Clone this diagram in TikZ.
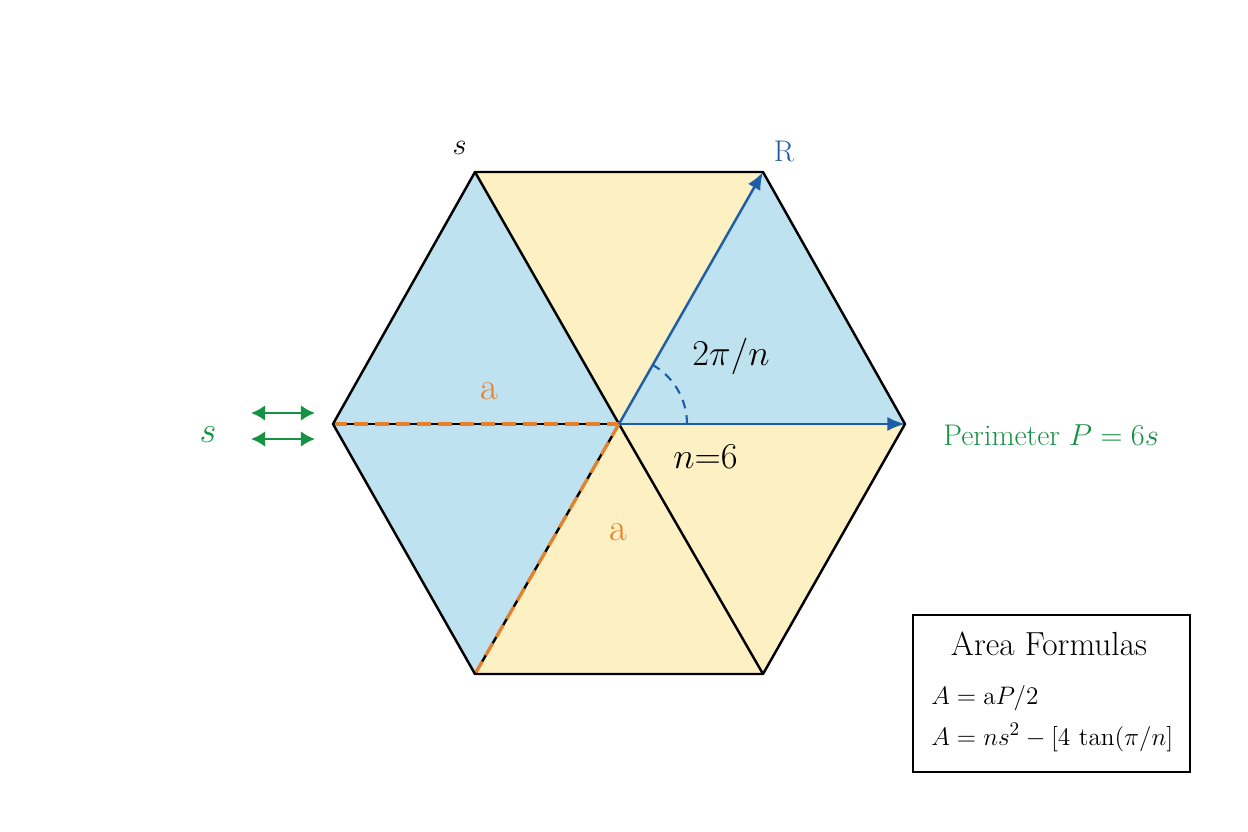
\documentclass[tikz,border=0pt]{standalone}
\usetikzlibrary{positioning,arrows.meta}

\definecolor{hexblue}{RGB}{190,226,240}
\definecolor{hexyellow}{RGB}{253,241,196}
\definecolor{rblue}{RGB}{30,94,166}
\definecolor{aorange}{RGB}{232,128,42}
\definecolor{sgreen}{RGB}{22,146,68}

\begin{document}
\begin{tikzpicture}[x=0.02cm, y=-0.02cm,
        hexline/.style = {draw, line width=1.4pt, line join=round},
        apo/.style = {draw=aorange, line width=1.8pt, dash pattern=on 8pt off 4pt},
        rad/.style = {draw=rblue, line width=1.4pt, -{Latex[length=10pt,width=8pt]}},
        angarc/.style = {draw=rblue, line width=1.2pt, dash pattern=on 5pt off 4pt},
        twoway/.style = {draw=sgreen, line width=1.6pt, {Latex[length=8pt,width=9pt]}-{Latex[length=8pt,width=9pt]}},
        lbl/.style = {inner sep=0pt},
        formbox/.style = {draw, line width=1.2pt, minimum width=157.6pt, minimum height=89.4pt}]
                        \useasboundingbox (0,0) rectangle (1248,832);

                        \coordinate (0) at (619,424);
                        \coordinate (1) at (475,172);
                        \coordinate (2) at (763,172);
                        \coordinate (3) at (905,424);
                        \coordinate (4) at (763,674);
                        \coordinate (5) at (475,674);
                        \coordinate (6) at (333,424);

                        \fill[hexblue] (6) -- (1) -- (0) -- cycle;
                        \fill[hexblue] (2) -- (3) -- (0) -- cycle;
                        \fill[hexblue] (5) -- (6) -- (0) -- cycle;
                        \fill[hexyellow] (1) -- (2) -- (0) -- cycle;
                        \fill[hexyellow] (3) -- (4) -- (0) -- cycle;
                        \fill[hexyellow] (4) -- (5) -- (0) -- cycle;

                        \draw[hexline] (1) -- (0);\draw[hexline] (0) -- (4);
                        \draw[hexline] (6) -- (0);\draw[hexline] (0) -- (5);
                        \draw[apo] (6) -- (0);\draw[apo] (0) -- (5);

                        \draw[rad] (0) -- (2);
                        \draw[rad] (0) -- (3);
                        \draw[angarc] (0) ++(68,0) arc[start angle=0, end angle=-60, radius=68];

                        \draw[hexline] (1) -- (2) -- (3) -- (4) -- (5) -- (6) -- cycle;

                        \node[lbl, above left=9.5pt and 4.5pt of 1, font=\fontsize{17}{20}\selectfont] (stop) {$s$};
                        \node[lbl, above right=5.5pt and 6pt of 2, text=rblue, font=\fontsize{17}{20}\selectfont] (R) {R};
                        \node[lbl, anchor=base west, font=\fontsize{20}{24}\selectfont] (ang) at (692,365) {$2\pi/n$};
                        \node[lbl, anchor=base west, font=\fontsize{20}{24}\selectfont] (n) at (673,468) {$n{=}6$};
                        \node[lbl, anchor=base, text=aorange, font=\fontsize{22}{26}\selectfont] (a1) at (489,399) {a};
                        \node[lbl, anchor=base, text=aorange, font=\fontsize{22}{26}\selectfont] (a2) at (618,540) {a};
                        \node[lbl, anchor=base west, text=sgreen, font=\fontsize{17}{20}\selectfont] (perim) at (943,445) {Perimeter $P = 6s$};

                        \node[lbl, anchor=base, text=sgreen, font=\fontsize{21}{25}\selectfont] (sside) at (208,442) {$s$};
                        \coordinate (s1a) at (251,413);\coordinate (s1b) at (315,413);
                        \coordinate (s2a) at (251,439);\coordinate (s2b) at (315,439);
                        \draw[twoway] (s1a) -- (s1b);
                        \draw[twoway] (s2a) -- (s2b);

                        \node[formbox] (box) at (1051.5,693.5) {};
                        \node[lbl, anchor=base, font=\fontsize{19}{23}\selectfont] (title) at (1049,655) {Area Formulas};
                        \node[lbl, anchor=base west, font=\fontsize{15.5}{18}\selectfont] (f1) at (931,704) {$A = \mathrm{a}P/2$};
                        \node[lbl, anchor=base west, font=\fontsize{15.5}{18}\selectfont] (f2) at (931,745) {$A = ns^2 - \bigl[4\,\tan(\pi/n\bigr]$};
                    \end{tikzpicture}
\end{document}
